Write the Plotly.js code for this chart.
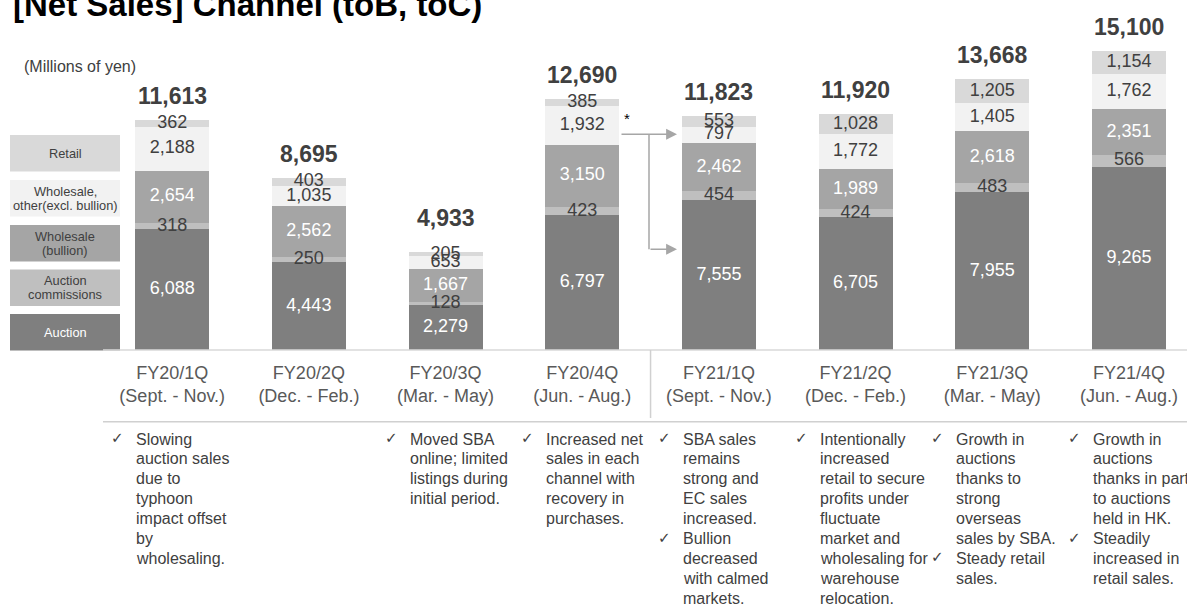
<!DOCTYPE html>
<html><head><meta charset="utf-8">
<script src="https://cdn.plot.ly/plotly-3.0.1.min.js"></script>
<style>html,body{margin:0;padding:0;background:#fff}#chart{width:1187px;height:604px}</style>
</head><body><div id="chart"></div>
<script>
// ---------- data ----------
const categories = ['FY20/1Q','FY20/2Q','FY20/3Q','FY20/4Q','FY21/1Q','FY21/2Q','FY21/3Q','FY21/4Q'];
const periods = ['(Sept. - Nov.)','(Dec. - Feb.)','(Mar. - May)','(Jun. - Aug.)','(Sept. - Nov.)','(Dec. - Feb.)','(Mar. - May)','(Jun. - Aug.)'];
const auction        = [6088, 4443, 2279, 6797, 7555, 6705, 7955, 9265];
const commissions    = [318, 250, 128, 423, 454, 424, 483, 566];
const bullion        = [2654, 2562, 1667, 3150, 2462, 1989, 2618, 2351];
const wholesaleOther = [2188, 1035, 653, 1932, 797, 1772, 1405, 1762];
const retail         = [362, 403, 205, 385, 553, 1028, 1205, 1154];
const totals         = [11613, 8695, 4933, 12690, 11823, 11920, 13668, 15100];
const seriesNames = ['Auction','Auction commissions','Wholesale (bullion)','Wholesale, other (excl. bullion)','Retail'];
const legendLabels = [['Retail'],['Wholesale,','other(excl. bullion)'],['Wholesale','(bullion)'],['Auction','commissions'],['Auction']];
const notes = [
  [['Slowing','auction sales','due to','typhoon','impact offset','by','wholesaling.']],
  [],
  [['Moved SBA','online; limited','listings during','initial period.']],
  [['Increased net','sales in each','channel with','recovery in','purchases.']],
  [['SBA sales','remains','strong and','EC sales','increased.'],['Bullion','decreased','with calmed','markets.']],
  [['Intentionally','increased','retail to secure','profits under','fluctuate','market and','wholesaling for','warehouse','relocation.']],
  [['Growth in','auctions','thanks to','strong','overseas','sales by SBA.'],['Steady retail','sales.']],
  [['Growth in','auctions','thanks in part','to auctions','held in HK.'],['Steadily','increased in','retail sales.']]
];
const titleText = '[Net Sales] Channel (toB, toC)';
const unitText = '(Millions of yen)';

// ---------- styles ----------
const FONT = 'Liberation Sans, Arial, Helvetica, sans-serif';
const barColors = ['#7f7f7f','#bfbfbf','#a5a5a5','#f2f2f2','#d9d9d9'];
const labelColors = ['#ffffff','#404040','#ffffff','#404040','#404040'];
const legendColors = ['#d9d9d9','#f2f2f2','#a5a5a5','#bfbfbf','#7f7f7f'];
const legendTextColors = ['#404040','#404040','#404040','#404040','#ffffff'];
const DARK = '#404040';

const W = 1187, H = 604, PB = 350;
const X0 = -1.26, X1 = 7.425, Y1 = 350 / 0.0198;
const pX = px => px / W;
const pY = py => (PB - py) / PB;

const series = [auction, commissions, bullion, wholesaleOther, retail];
const traces = [];
series.forEach((s, k) => {
  traces.push({type:'bar', x:categories, y:s, name:seriesNames[k],
    marker:{color:barColors[k], line:{width:0}}, hoverinfo:'skip', showlegend:false});
});
const base = categories.map(() => 0);
series.forEach((s, k) => {
  const mid = s.map((v, i) => base[i] + v / 2);
  s.forEach((v, i) => base[i] += v);
  traces.push({type:'scatter', mode:'text', x:categories, y:mid,
    text:s.map(v => v.toLocaleString('en-US')), textposition:'middle center',
    textfont:{family:FONT, size:18, color:labelColors[k]}, hoverinfo:'skip', showlegend:false, cliponaxis:false});
});

const annotations = [];
const shapes = [];
// totals
totals.forEach((t, i) => {
  annotations.push({x:categories[i], y:t, xref:'x', yref:'y', yanchor:'bottom', yshift: 9 + (i === 2 ? 10 : 0),
    text:'<b>' + t.toLocaleString('en-US') + '</b>', showarrow:false,
    font:{family:FONT, size:23, color:DARK}});
});
// title & unit
annotations.push({xref:'paper', yref:'paper', x:pX(11), y:pY(4), xanchor:'left', yanchor:'middle',
  text:'<b>' + titleText + '</b>', showarrow:false, font:{family:FONT, size:33, color:'#000000'}});
annotations.push({xref:'paper', yref:'paper', x:pX(22), y:pY(66.7), xanchor:'left', yanchor:'middle',
  text:unitText, showarrow:false, font:{family:FONT, size:16, color:DARK}});
// legend boxes
const boxTops = [135, 180, 225, 269.5, 314];
legendLabels.forEach((lines, j) => {
  const top = boxTops[j], bot = top + 36.5, mid = (top + bot) / 2;
  shapes.push({type:'rect', xref:'paper', yref:'paper', x0:pX(10), x1:pX(120), y0:pY(bot), y1:pY(top),
    fillcolor:legendColors[j], line:{width:0}, layer:'below'});
  lines.forEach((ln, q) => {
    const cy = mid + (q - (lines.length - 1) / 2) * 14;
    annotations.push({xref:'paper', yref:'paper', x:pX(65), y:pY(cy), xanchor:'center', yanchor:'middle',
      text:ln, showarrow:false, font:{family:FONT, size:12.8, color:legendTextColors[j]}});
  });
});
// separators
shapes.push({type:'line', xref:'paper', yref:'paper', x0:pX(103), x1:1, y0:pY(350), y1:pY(350), line:{color:'#d9d9d9', width:1.5}});
shapes.push({type:'line', xref:'paper', yref:'paper', x0:pX(103), x1:1, y0:pY(421.7), y1:pY(421.7), line:{color:'#d0d0d0', width:1.5}});
shapes.push({type:'line', xref:'x', yref:'paper', x0:3.5, x1:3.5, y0:pY(350), y1:pY(418), line:{color:'#d0d0d0', width:1.5}});
// arrows
const AC = '#a6a6a6';
shapes.push({type:'line', xref:'paper', yref:'paper', x0:pX(649), x1:pX(649), y0:pY(134.3), y1:pY(249.3), line:{color:AC, width:1.5}});
annotations.push({xref:'paper', yref:'paper', x:pX(677), y:pY(134.3), ax:-57, ay:0, text:'', showarrow:true,
  arrowhead:2, arrowsize:1.45, arrowwidth:1.5, arrowcolor:AC});
annotations.push({xref:'paper', yref:'paper', x:pX(677), y:pY(249.3), ax:-28, ay:0, text:'', showarrow:true,
  arrowhead:2, arrowsize:1.45, arrowwidth:1.5, arrowcolor:AC});
annotations.push({xref:'paper', yref:'paper', x:pX(626.5), y:pY(118), xanchor:'center', yanchor:'middle',
  text:'*', showarrow:false, font:{family:FONT, size:15, color:'#000000'}});
// notes
notes.forEach((bullets, i) => {
  let k = 0;
  bullets.forEach(lines => {
    lines.forEach((ln, q) => {
      const cy = 439 + k * 19.9;
      if (q === 0) {
        annotations.push({x:categories[i], xref:'x', xshift:-63, yref:'paper', y:pY(cy - 1), xanchor:'left', yanchor:'middle',
          text:'✓', showarrow:false, font:{family:'DejaVu Sans, sans-serif', size:15, color:DARK}});
      }
      annotations.push({x:categories[i], xref:'x', xshift:-38, yref:'paper', y:pY(cy), xanchor:'left', yanchor:'middle',
        text:ln, showarrow:false, font:{family:FONT, size:16, color:DARK}});
      k++;
    });
  });
});

const layout = {
  width:W, height:H, margin:{l:0, r:0, t:0, b:H - PB},
  paper_bgcolor:'#ffffff', plot_bgcolor:'#ffffff',
  barmode:'stack', bargap:0.459, showlegend:false,
  font:{family:FONT, color:DARK},
  xaxis:{type:'category', range:[X0, X1], tickmode:'array', tickvals:categories,
    ticktext:categories.map((c, i) => c + '<br>' + periods[i]),
    tickfont:{family:FONT, size:18, color:'#595959'}, ticks:'', showline:false, showgrid:false, zeroline:false,
    fixedrange:true, ticklabelstandoff:10},
  yaxis:{range:[0, Y1], visible:false, fixedrange:true},
  annotations, shapes
};
Plotly.newPlot('chart', traces, layout, {displayModeBar:false, staticPlot:true});
</script></body></html>
